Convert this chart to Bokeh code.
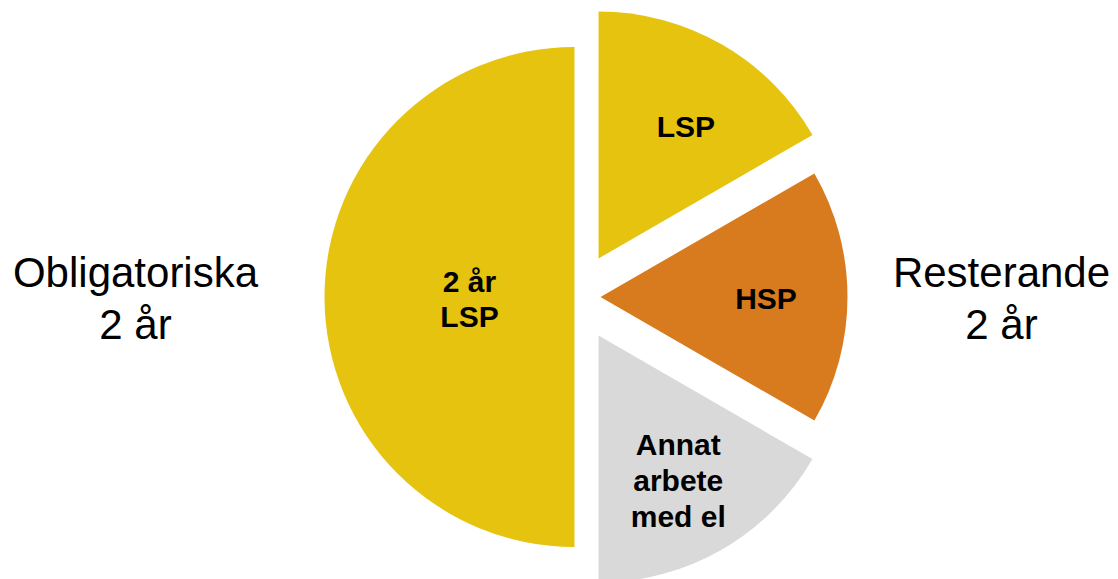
import math
from bokeh.plotting import figure
from bokeh.models import ColumnDataSource, Range1d
from bokeh.core.properties import value
from bokeh.embed import file_html
from bokeh.resources import INLINE

# ---- data ----
categories = ["LSP", "HSP", "Annat arbete med el", "2 år LSP"]
labels = ["LSP", "HSP", "Annat\narbete\nmed el", "2 år\nLSP"]
values = [1, 1, 1, 3]
colors = ["#E5C30F", "#D87B1E", "#D9D9D9", "#E5C30F"]
group_labels = ["Obligatoriska\n2 år", "Resterande\n2 år"]

# ---- layout / style ----
W, H = 1118, 579
cx, cy = 575.8, 282.5           # pie centre (data units = px)
explode = [44.5, 24.2, 44.5, 1.8]
radii = [247, 247, 247, 250]
label_frac = [0.64, 0.67, 0.67, 0.42]
label_dang = [-3.5, -0.5, -1.2, 1.1]   # degrees

total = float(sum(values))
xs, ys, starts, ends, lx, ly = [], [], [], [], [], []
cum = 0.0
for v, e, r, lf, da in zip(values, explode, radii, label_frac, label_dang):
    a0 = math.pi / 2 - 2 * math.pi * (cum + v) / total
    a1 = math.pi / 2 - 2 * math.pi * cum / total
    mid = (a0 + a1) / 2
    x0 = cx + e * math.cos(mid)
    y0 = cy + e * math.sin(mid)
    xs.append(x0); ys.append(y0)
    starts.append(a0); ends.append(a1)
    la = mid + math.radians(da)
    lx.append(x0 + lf * r * math.cos(la))
    ly.append(y0 + lf * r * math.sin(la))
    cum += v

src = ColumnDataSource(dict(x=xs, y=ys, r=radii, start=starts, end=ends,
                            color=colors, cat=categories, label=labels,
                            lx=lx, ly=ly))

p = figure(width=W, height=H, output_backend="svg", toolbar_location=None,
           x_range=Range1d(0, W), y_range=Range1d(0, H),
           x_axis_location=None, y_axis_location=None, min_border=0)
p.grid.visible = False
p.outline_line_color = None
p.background_fill_color = "white"

p.wedge(x="x", y="y", radius="r", start_angle="start", end_angle="end",
        fill_color="color", line_color=None, source=src)

p.text(x="lx", y="ly", text="label", source=src, text_align="center",
       text_baseline="middle", text_font=value("Liberation Sans"),
       text_font_style="bold", text_font_size="30px", text_color="black",
       text_line_height=1.09)

p.text(x=[135, 1001], y=[281, 281], text=group_labels, text_align="center",
       text_baseline="middle", text_font=value("Liberation Sans"),
       text_font_size="42px", text_color="black", text_line_height=1.11)

open("out.html", "w").write(file_html(p, INLINE))
